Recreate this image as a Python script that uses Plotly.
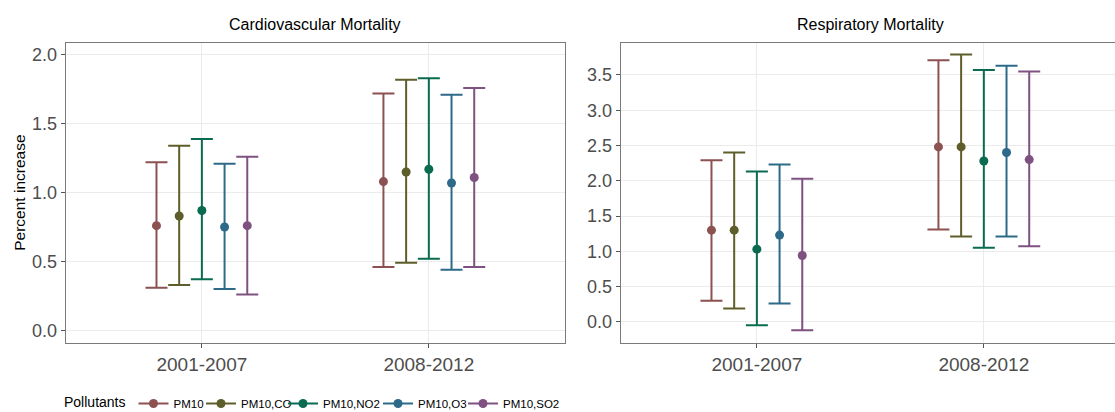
import plotly.graph_objects as go

# Study periods (x categories) and pollutant models (series)
periods = ["2001-2007", "2008-2012"]
pollutants = ["PM10", "PM10,CO", "PM10,NO2", "PM10,O3", "PM10,SO2"]
colors = ["#8C5151", "#5E5E2A", "#0A6B50", "#2D6A8A", "#7E5180"]

# Cardiovascular mortality: percent increase with 95% CI, [period1, period2] per pollutant
cv_est = [[0.76, 1.08], [0.83, 1.15], [0.87, 1.17], [0.75, 1.07], [0.76, 1.11]]
cv_low = [[0.31, 0.46], [0.33, 0.49], [0.37, 0.52], [0.30, 0.44], [0.26, 0.46]]
cv_up = [[1.22, 1.72], [1.34, 1.82], [1.39, 1.83], [1.21, 1.71], [1.26, 1.76]]

# Respiratory mortality
resp_est = [[1.30, 2.48], [1.30, 2.48], [1.03, 2.28], [1.23, 2.40], [0.94, 2.30]]
resp_low = [[0.30, 1.31], [0.19, 1.21], [-0.05, 1.05], [0.26, 1.21], [-0.12, 1.07]]
resp_up = [[2.29, 3.71], [2.40, 3.79], [2.13, 3.57], [2.23, 3.63], [2.03, 3.55]]

panel_titles = ["Cardiovascular Mortality", "Respiratory Mortality"]
y_title = "Percent increase"
legend_title = "Pollutants"

FONT = "Liberation Sans, Arial, sans-serif"
W, H = 1115, 412
MB = 40                 # bottom margin that holds the legend row
PH = H - MB             # plot-area height

fig = go.Figure()

panels = [(cv_est, cv_low, cv_up, "x", "y"), (resp_est, resp_low, resp_up, "x2", "y2")]
legend_ids = ["legend", "legend2", "legend3", "legend4", "legend5"]

for p, (est, low, up, xa, ya) in enumerate(panels):
    for i, name in enumerate(pollutants):
        for j, per in enumerate(periods):
            fig.add_trace(go.Scatter(
                x=[per], y=[est[i][j]],
                mode="lines+markers",
                name=name,
                legendgroup=name,
                legend=legend_ids[i],
                showlegend=(p == 0 and j == 0),
                offsetgroup=name,
                marker=dict(color=colors[i], size=9),
                line=dict(color=colors[i], width=2),
                error_y=dict(type="data", symmetric=False,
                             array=[up[i][j] - est[i][j]],
                             arrayminus=[est[i][j] - low[i][j]],
                             color=colors[i], thickness=2, width=11),
                xaxis=xa, yaxis=ya,
                hovertemplate=name + "<br>%{x}: %{y:.2f}<extra></extra>",
            ))

# Panel geometry in pixels
L1, R1 = 65.7, 565.0
L2 = 620.7
TOP, BOT = 42.5, 343.0
px_per_cat = (R1 - L1) / 2.2


def py(pix):
    """Pixel row -> paper fraction of the plot area."""
    return (PH - pix) / PH


ydom = [py(BOT), py(TOP)]
border = "#7a7a7a"
grid = "#ebebeb"

common_x = dict(type="category", categoryorder="array", categoryarray=periods,
                showgrid=True, gridcolor=grid, gridwidth=1,
                ticks="outside", ticklen=4, tickcolor="#555", tickwidth=1,
                showline=True, linecolor=border, linewidth=1.3, mirror=True,
                tickfont=dict(family=FONT, size=19, color="#4d4d4d"),
                zeroline=False, fixedrange=True, automargin=False)
common_y = dict(showgrid=True, gridcolor=grid, gridwidth=1,
                ticks="outside", ticklen=4, tickcolor="#555", tickwidth=1,
                showline=True, linecolor=border, linewidth=1.3,
                tickfont=dict(family=FONT, size=18, color="#4d4d4d"),
                zeroline=False, tickformat=".1f",
                dtick=0.5, tick0=0, fixedrange=True, automargin=False)

fig.update_layout(
    width=W, height=H,
    margin=dict(l=0, r=0, t=0, b=MB, autoexpand=False),
    paper_bgcolor="white", plot_bgcolor="white",
    font=dict(family=FONT, color="black"),
    scattermode="group", scattergap=0.5,
    xaxis=dict(common_x, domain=[L1 / W, R1 / W], range=[-0.6, 1.6], anchor="y"),
    yaxis=dict(common_y, domain=ydom, range=[-0.092, 2.09], mirror=True, anchor="x"),
    xaxis2=dict(common_x, domain=[L2 / W, 1.0],
                range=[-0.6, -0.6 + (W - L2) / px_per_cat], anchor="y2"),
    yaxis2=dict(common_y, domain=ydom, range=[-0.30, 3.96], mirror=False, anchor="x2"),
)

# Legend: one horizontal row along the bottom edge
leg_x = [62, 201, 283, 378, 463]
for k, lid in enumerate(legend_ids):
    cfg = dict(orientation="h", x=leg_x[k] / W, xanchor="left",
               y=py(418), yanchor="bottom", itemwidth=30,
               bgcolor="rgba(0,0,0,0)",
               font=dict(family=FONT, size=11.5, color="black"))
    if k == 0:
        cfg["title"] = dict(text=legend_title, side="left",
                            font=dict(family=FONT, size=14, color="black"))
    fig.update_layout({lid: cfg})

# Panel titles and shared y-axis title
fig.add_annotation(text=panel_titles[0], x=(L1 + R1) / 2 / W, y=py(24),
                   xref="paper", yref="paper", showarrow=False,
                   xanchor="center", yanchor="middle",
                   font=dict(family=FONT, size=16, color="black"))
fig.add_annotation(text=panel_titles[1], x=870 / W, y=py(24),
                   xref="paper", yref="paper", showarrow=False,
                   xanchor="center", yanchor="middle",
                   font=dict(family=FONT, size=16, color="black"))
fig.add_annotation(text=y_title, x=20 / W, y=py((TOP + BOT) / 2),
                   xref="paper", yref="paper", showarrow=False, textangle=-90,
                   xanchor="center", yanchor="middle",
                   font=dict(family=FONT, size=15.5, color="black"))

fig.write_html("out.html")
